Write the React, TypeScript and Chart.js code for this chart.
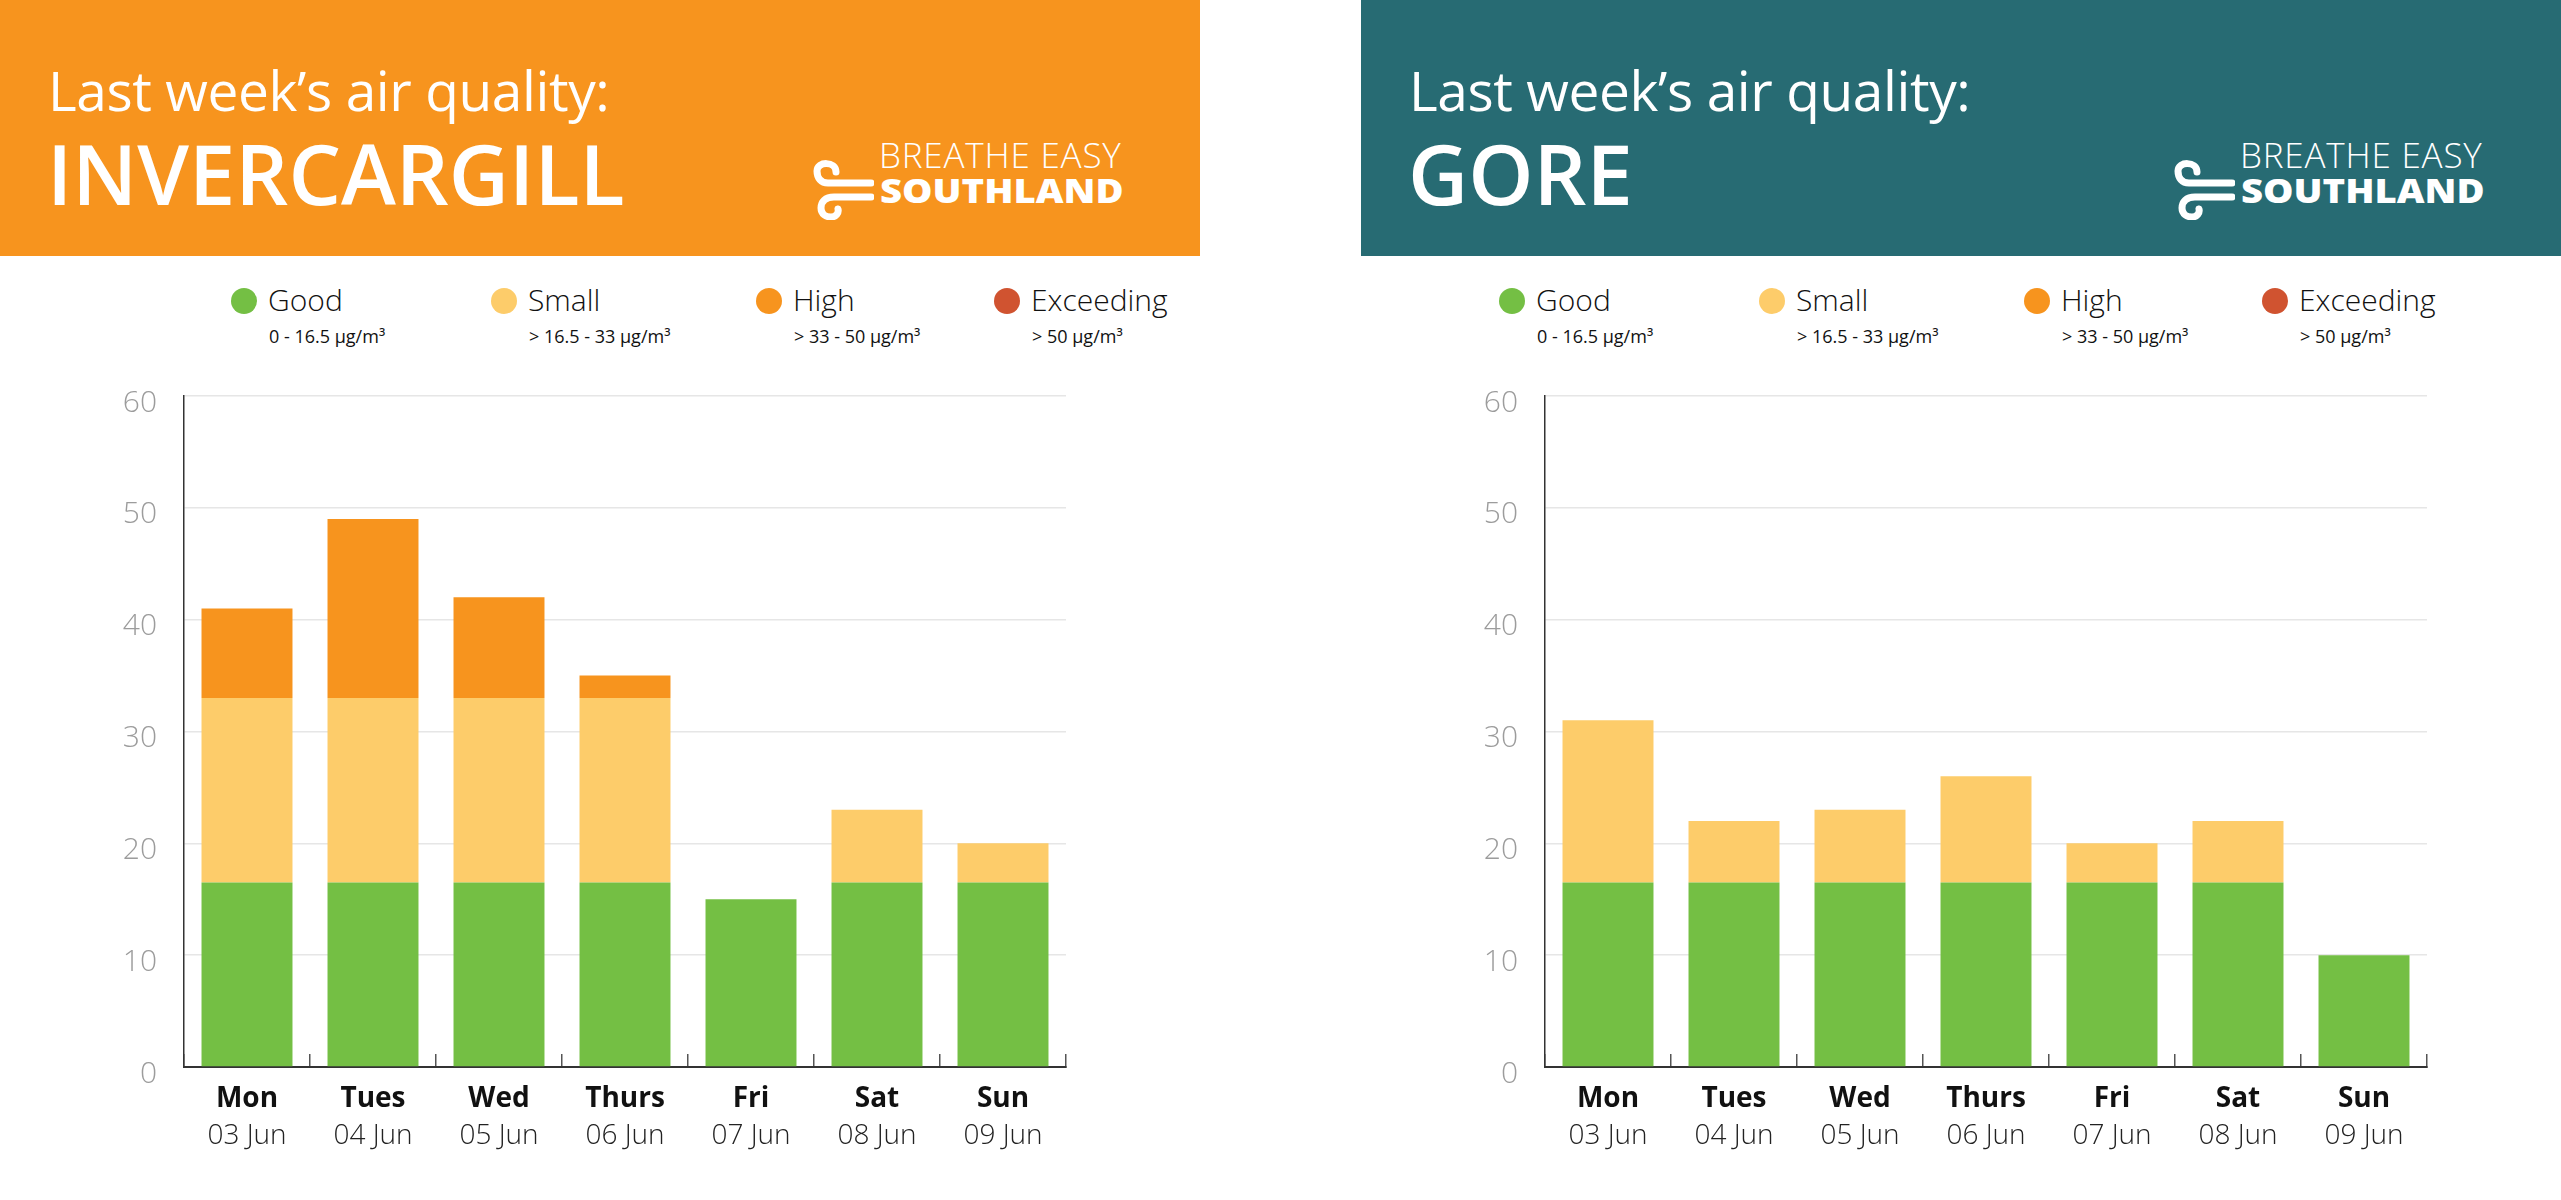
import React, { useEffect, useRef } from "react";
import { Chart, registerables } from "chart.js";

Chart.register(...registerables);

// ---------- data ----------
const DAYS = ["Mon", "Tues", "Wed", "Thurs", "Fri", "Sat", "Sun"];
const DATES = ["03 Jun", "04 Jun", "05 Jun", "06 Jun", "07 Jun", "08 Jun", "09 Jun"];
const Y_MIN = 0;
const Y_MAX = 60;
const Y_STEP = 10;

const BAND_NAMES = ["Good", "Small", "High", "Exceeding"];
const BAND_RANGES = ["0 - 16.5 µg/m³", "> 16.5 - 33 µg/m³", "> 33 - 50 µg/m³", "> 50 µg/m³"];
const BAND_COLORS = ["#74BF44", "#FDCC6A", "#F7941E", "#D05330"];

const INV_GOOD = [16.5, 16.5, 16.5, 16.5, 15, 16.5, 16.5];
const INV_SMALL = [16.5, 16.5, 16.5, 16.5, 0, 6.5, 3.5];
const INV_HIGH = [8, 16, 9, 2, 0, 0, 0];
const INV_EXCEEDING = [0, 0, 0, 0, 0, 0, 0];

const GORE_GOOD = [16.5, 16.5, 16.5, 16.5, 16.5, 16.5, 10];
const GORE_SMALL = [14.5, 5.5, 6.5, 9.5, 3.5, 5.5, 0];
const GORE_HIGH = [0, 0, 0, 0, 0, 0, 0];
const GORE_EXCEEDING = [0, 0, 0, 0, 0, 0, 0];

const FONT = "'Open Sans', 'Noto Sans', sans-serif";

// ---------- chart ----------
function AirChart({ series }: { series: number[][] }) {
  const ref = useRef<HTMLCanvasElement>(null);
  useEffect(() => {
    const chart = new Chart(ref.current as HTMLCanvasElement, {
      type: "bar",
      data: {
        labels: DAYS,
        datasets: series.map((d, i) => ({
          label: BAND_NAMES[i],
          data: d,
          backgroundColor: BAND_COLORS[i],
          borderWidth: 0,
          barPercentage: 0.722,
          categoryPercentage: 1,
        })),
      },
      options: {
        animation: false,
        responsive: false,
        maintainAspectRatio: false,
        layout: { padding: { top: 0, right: 134, left: 0, bottom: 0 } },
        plugins: { legend: { display: false }, tooltip: { enabled: false } },
        scales: {
          x: {
            stacked: true,
            position: "bottom",
            weight: 0,
            offset: true,
            grid: {
              display: true,
              drawOnChartArea: false,
              drawTicks: true,
              tickLength: -13,
              color: "#555",
              lineWidth: 1.5,
              offset: true,
            },
            border: { display: true, color: "#333", width: 2 },
            ticks: {
              padding: 28,
              color: "#111",
              maxRotation: 0,
              autoSkip: false,
              font: { family: FONT, size: 28, weight: "bold" },
            },
            afterFit: (s: any) => {
              s.height = 48;
            },
          },
          x2: {
            type: "category",
            labels: DATES,
            position: "bottom",
            weight: 1,
            offset: true,
            grid: { display: false, drawTicks: false },
            border: { display: false },
            ticks: {
              padding: 4,
              color: "#222",
              maxRotation: 0,
              autoSkip: false,
              font: { family: FONT, size: 28, weight: 300 },
            },
            afterFit: (s: any) => {
              s.height = 55;
            },
          },
          y: {
            stacked: true,
            min: Y_MIN,
            max: Y_MAX,
            ticks: {
              stepSize: Y_STEP,
              padding: 27,
              labelOffset: 7,
              color: "#9c9c9c",
              font: { family: FONT, size: 30, weight: 300 },
            },
            grid: { color: "#e6e6e6", lineWidth: 1.5, drawTicks: false },
            border: { display: true, color: "#333", width: 1.5 },
            afterFit: (s: any) => {
              s.width = 184;
            },
          },
        },
      } as any,
    });
    return () => chart.destroy();
  }, [series]);
  return (
    <canvas
      ref={ref}
      width={1200}
      height={819}
      style={{ position: "absolute", left: 0, top: 351, width: 1200, height: 819 }}
    />
  );
}

// ---------- logo ----------
function Logo() {
  return (
    <>
      <svg
        width={62}
        height={64}
        viewBox="0 0 62 64"
        style={{ position: "absolute", left: 812, top: 156 }}
      >
        <path
          d="M24 16 C24 5, 5 5, 5 15 C5 22, 9 27, 16 27 L59 27"
          fill="none"
          stroke="#fff"
          strokeWidth={7}
          strokeLinecap="round"
          strokeLinejoin="round"
        />
        <path
          d="M59 41 L22 41 C13 41, 9 46, 9 52 C9 58, 14 61, 19 61 C24 61, 27 57, 26 53"
          fill="none"
          stroke="#fff"
          strokeWidth={7}
          strokeLinecap="round"
          strokeLinejoin="round"
        />
      </svg>
      <div
        style={{
          position: "absolute",
          left: 879,
          top: 137,
          fontSize: 35,
          lineHeight: "35px",
          fontWeight: 300,
          letterSpacing: "0.8px",
          color: "#fff",
          whiteSpace: "nowrap",
        }}
      >
        BREATHE EASY
      </div>
      <div
        style={{
          position: "absolute",
          left: 880,
          top: 174,
          fontSize: 33,
          lineHeight: "33px",
          fontWeight: 800,
          color: "#fff",
          whiteSpace: "nowrap",
          transform: "scaleX(1.16)",
          transformOrigin: "0 0",
        }}
      >
        SOUTHLAND
      </div>
    </>
  );
}

// ---------- legend ----------
const LEGEND_DOT_X = [244, 504, 769, 1007];

function Legend({ shift }: { shift: number }) {
  return (
    <>
      {BAND_NAMES.map((name, i) => {
        const cx = LEGEND_DOT_X[i] - shift;
        return (
          <React.Fragment key={name}>
            <div
              style={{
                position: "absolute",
                left: cx - 13,
                top: 301 - 13,
                width: 26,
                height: 26,
                borderRadius: "50%",
                background: BAND_COLORS[i],
              }}
            />
            <div
              style={{
                position: "absolute",
                left: cx + 24,
                top: 285,
                fontSize: 30,
                lineHeight: "30px",
                fontWeight: 300,
                color: "#111",
                whiteSpace: "nowrap",
              }}
            >
              {name}
            </div>
            <div
              style={{
                position: "absolute",
                left: cx + 25,
                top: 327,
                fontSize: 18,
                lineHeight: "18px",
                fontWeight: 400,
                color: "#111",
                whiteSpace: "nowrap",
              }}
            >
              {BAND_RANGES[i]}
            </div>
          </React.Fragment>
        );
      })}
    </>
  );
}

// ---------- panel ----------
function Panel({
  left,
  color,
  city,
  series,
  legendShift,
}: {
  left: number;
  color: string;
  city: string;
  series: number[][];
  legendShift: number;
}) {
  return (
    <div style={{ position: "absolute", left, top: 0, width: 1200, height: 1200 }}>
      <div
        style={{
          position: "absolute",
          left: 0,
          top: 0,
          width: 1200,
          height: 256,
          background: color,
        }}
      >
        <div
          style={{
            position: "absolute",
            left: 48,
            top: 62,
            fontSize: 55,
            lineHeight: "56px",
            fontWeight: 400,
            letterSpacing: "-0.4px",
            color: "#fff",
            whiteSpace: "nowrap",
          }}
        >
          Last week’s air quality:
        </div>
        <div
          style={{
            position: "absolute",
            left: 47,
            top: 131,
            fontSize: 83,
            lineHeight: "83px",
            fontWeight: 600,
            color: "#fff",
            whiteSpace: "nowrap",
          }}
        >
          {city}
        </div>
        <Logo />
      </div>
      <Legend shift={legendShift} />
      <AirChart series={series} />
    </div>
  );
}

const INV_SERIES = [INV_GOOD, INV_SMALL, INV_HIGH, INV_EXCEEDING];
const GORE_SERIES = [GORE_GOOD, GORE_SMALL, GORE_HIGH, GORE_EXCEEDING];

export default function App() {
  useEffect(() => {
    document.body.style.margin = "0";
  }, []);
  return (
    <div
      style={{
        position: "absolute",
        left: 0,
        top: 0,
        width: 2561,
        height: 1200,
        background: "#fff",
        fontFamily: FONT,
        overflow: "hidden",
      }}
    >
      <Panel left={0} color="#F7941E" city="INVERCARGILL" series={INV_SERIES} legendShift={0} />
      <Panel left={1361} color="#276B73" city="GORE" series={GORE_SERIES} legendShift={93} />
    </div>
  );
}
